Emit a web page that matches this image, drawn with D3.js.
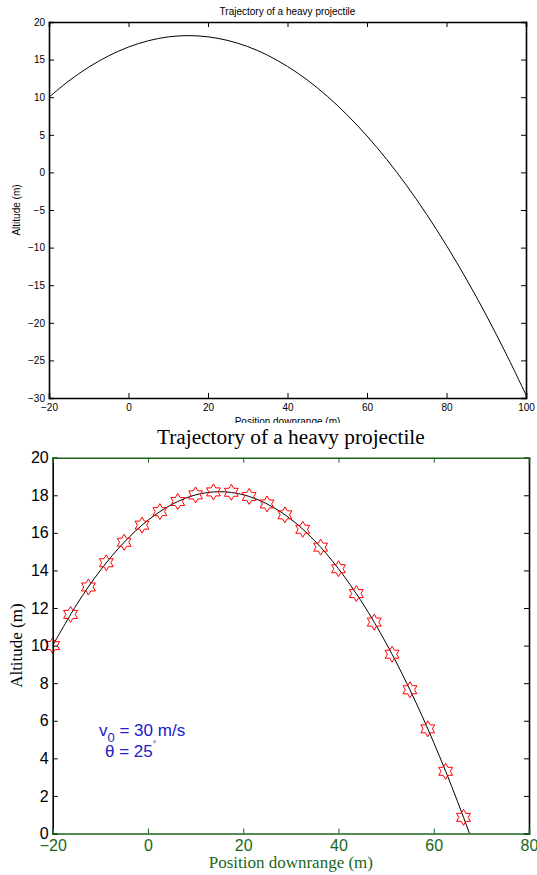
<!DOCTYPE html>
<html>
<head>
<meta charset="utf-8">
<script src="https://cdn.jsdelivr.net/npm/d3@7"></script>
<style>
  html, body { margin: 0; padding: 0; background: #fff; }
  svg { display: block; }
</style>
</head>
<body>
<svg id="chart" width="537" height="875"></svg>
<script>
// ---- data ----
const curveX = [-20,-15,-10,-5,0,5,10,15,20,25,30,35,40,45,50,55,60,65,70,75,80,85,90,95,100];
const curveY = [10.00,12.17,14.00,15.50,16.67,17.51,18.02,18.19,18.03,17.54,16.73,15.58,14.09,12.28,10.13,7.65,4.84,1.70,-1.77,-5.58,-9.72,-14.19,-18.99,-24.13,-29.58];

const starX = [-20,-16.25,-12.5,-8.75,-5,-1.25,2.5,6.25,10,13.75,17.5,21.25,25,28.75,32.5,36.25,40,43.75,47.5,51.25,55,58.75,62.5,66.25];
const starY = [10.00,11.66,13.12,14.41,15.50,16.41,17.13,17.67,18.02,18.18,18.16,17.94,17.54,16.96,16.19,15.24,14.09,12.77,11.25,9.54,7.65,5.57,3.31,0.86];

const topXTicks = [-20,0,20,40,60,80,100];
const topYTicks = [-30,-25,-20,-15,-10,-5,0,5,10,15,20];
const botXTicks = [-20,0,20,40,60,80];
const botYTicks = [0,2,4,6,8,10,12,14,16,18,20];

const titleText = "Trajectory of a heavy projectile";
const xLabelText = "Position downrange (m)";
const yLabelText = "Altitude (m)";

// ---- drawing ----
const svg = d3.select("#chart");
const SANS = "'Liberation Sans', Arial, Helvetica, sans-serif";
const SERIF = "'Liberation Serif', 'Times New Roman', serif";
const GREEN = "#1c661c";
const BLUE = "#2020c8";
const fmt = d => d < 0 ? "\u2212" + Math.abs(d) : String(d);

const curveData = curveX.map((x, i) => ({x, y: curveY[i]}));
const starData = starX.map((x, i) => ({x, y: starY[i]}));

// ===== TOP PANEL =====
(function () {
  const L = 49, R = 526, T = 22, B = 398;
  const x = d3.scaleLinear().domain([-20, 100]).range([L, R]);
  const y = d3.scaleLinear().domain([-30, 20]).range([B, T]);
  const g = svg.append("g");
  const tl = 5;

  g.append("path")
    .datum(curveData)
    .attr("fill", "none")
    .attr("stroke", "#000")
    .attr("stroke-width", 1)
    .attr("d", d3.line().x(d => x(d.x)).y(d => y(d.y)).curve(d3.curveCatmullRom));

  const axB = d3.axisBottom(x).tickValues(topXTicks).tickSize(-tl).tickPadding(6).tickFormat(fmt);
  const axT = d3.axisTop(x).tickValues(topXTicks).tickSize(-tl).tickFormat("");
  const axL = d3.axisLeft(y).tickValues(topYTicks).tickSize(-tl).tickPadding(4).tickFormat(fmt);
  const axR = d3.axisRight(y).tickValues(topYTicks).tickSize(-tl).tickFormat("");

  const gb = g.append("g").attr("transform", `translate(0,${B})`).call(axB);
  const gt = g.append("g").attr("transform", `translate(0,${T})`).call(axT);
  const gl = g.append("g").attr("transform", `translate(${L},0)`).call(axL);
  const gr = g.append("g").attr("transform", `translate(${R},0)`).call(axR);
  [gb, gt, gl, gr].forEach(a => {
    a.select(".domain").attr("stroke", "#000").attr("stroke-width", 1.6);
    a.selectAll(".tick line").attr("stroke", "#000");
    a.selectAll("text").attr("font-family", SANS).attr("font-size", 10).attr("fill", "#000");
  });
  gb.selectAll("text").attr("dy", "0.71em");

  g.append("text")
    .attr("x", (L + R) / 2).attr("y", 15)
    .attr("text-anchor", "middle")
    .attr("font-family", SANS).attr("font-size", 10)
    .text(titleText);

  g.append("text")
    .attr("transform", `translate(20,${(T + B) / 2}) rotate(-90)`)
    .attr("text-anchor", "middle")
    .attr("font-family", SANS).attr("font-size", 10)
    .text(yLabelText);

  g.append("text")
    .attr("x", (L + R) / 2).attr("y", 425)
    .attr("text-anchor", "middle")
    .attr("font-family", SANS).attr("font-size", 10)
    .text(xLabelText);
})();

// ===== BOTTOM PANEL =====
svg.append("rect").attr("x", 0).attr("y", 423).attr("width", 537).attr("height", 452).attr("fill", "#fff");

(function () {
  const L = 52.7, R = 529, T = 457.7, B = 833.5;
  const x = d3.scaleLinear().domain([-20, 80]).range([L, R]);
  const y = d3.scaleLinear().domain([0, 20]).range([B, T]);
  const g = svg.append("g");
  const tl = 5;

  const clipId = "clipBottom";
  svg.append("clipPath").attr("id", clipId)
    .append("rect").attr("x", L).attr("y", T).attr("width", R - L).attr("height", B - T);

  g.append("path")
    .datum(curveData)
    .attr("clip-path", `url(#${clipId})`)
    .attr("fill", "none")
    .attr("stroke", "#000")
    .attr("stroke-width", 1)
    .attr("d", d3.line().x(d => x(d.x)).y(d => y(d.y)).curve(d3.curveCatmullRom));

  // hexagram marker
  const Ro = 8, Ri = Ro / Math.sqrt(3);
  const hexPts = d3.range(12).map(k => {
    const a = -Math.PI / 2 + k * Math.PI / 6;
    const r = k % 2 === 0 ? Ro : Ri;
    return [r * Math.cos(a), r * Math.sin(a)];
  });
  const hexPath = "M" + hexPts.map(p => p[0].toFixed(2) + "," + p[1].toFixed(2)).join("L") + "Z";

  g.append("g").selectAll("path")
    .data(starData)
    .join("path")
    .attr("transform", d => `translate(${x(d.x)},${y(d.y)})`)
    .attr("d", hexPath)
    .attr("fill", "none")
    .attr("stroke", "#ff0000")
    .attr("stroke-width", 1);

  const axB = d3.axisBottom(x).tickValues(botXTicks).tickSize(-tl).tickPadding(6).tickFormat(fmt);
  const axT = d3.axisTop(x).tickValues(botXTicks).tickSize(-tl).tickFormat("");
  const axL = d3.axisLeft(y).tickValues(botYTicks).tickSize(-tl).tickPadding(4).tickFormat(fmt);
  const axR = d3.axisRight(y).tickValues(botYTicks).tickSize(-tl).tickFormat("");

  const gl = g.append("g").attr("transform", `translate(${L},0)`).call(axL);
  const gr = g.append("g").attr("transform", `translate(${R},0)`).call(axR);
  const gb = g.append("g").attr("transform", `translate(0,${B})`).call(axB);
  const gt = g.append("g").attr("transform", `translate(0,${T})`).call(axT);
  [gl, gr].forEach(a => {
    a.select(".domain").attr("stroke", "#000").attr("stroke-width", 1.6);
    a.selectAll(".tick line").attr("stroke", "#000");
    a.selectAll("text").attr("font-family", SANS).attr("font-size", 16).attr("fill", "#000");
  });
  [gb, gt].forEach(a => {
    a.select(".domain").attr("stroke", GREEN).attr("stroke-width", 1.6);
    a.selectAll(".tick line").attr("stroke", GREEN);
    a.selectAll("text").attr("font-family", SANS).attr("font-size", 16).attr("fill", GREEN);
  });
  gb.selectAll("text").attr("dy", "0.71em");

  g.append("text")
    .attr("x", (L + R) / 2).attr("y", 444)
    .attr("text-anchor", "middle")
    .attr("font-family", SERIF).attr("font-size", 21.3)
    .attr("fill", "#000")
    .text(titleText);

  g.append("text")
    .attr("x", (L + R) / 2).attr("y", 868)
    .attr("text-anchor", "middle")
    .attr("font-family", SERIF).attr("font-size", 17)
    .attr("fill", GREEN)
    .text(xLabelText);

  g.append("text")
    .attr("transform", `translate(22,${(T + B) / 2}) rotate(-90)`)
    .attr("text-anchor", "middle")
    .attr("font-family", SERIF).attr("font-size", 17)
    .attr("fill", "#000")
    .text(yLabelText);

  // annotation
  const t1 = g.append("text")
    .attr("x", 99).attr("y", 736)
    .attr("font-family", SANS).attr("font-size", 17).attr("fill", BLUE);
  t1.append("tspan").text("v");
  t1.append("tspan").attr("font-size", 13).attr("dy", 6).text("0");
  t1.append("tspan").attr("dy", -6).text(" = 30 m/s");

  const t2 = g.append("text")
    .attr("x", 105).attr("y", 757)
    .attr("font-family", SANS).attr("font-size", 17).attr("fill", BLUE);
  t2.append("tspan").text("\u03B8 = 25");
  t2.append("tspan").attr("font-size", 9).attr("dy", -10).text("\u00B0");
})();
</script>
</body>
</html>
